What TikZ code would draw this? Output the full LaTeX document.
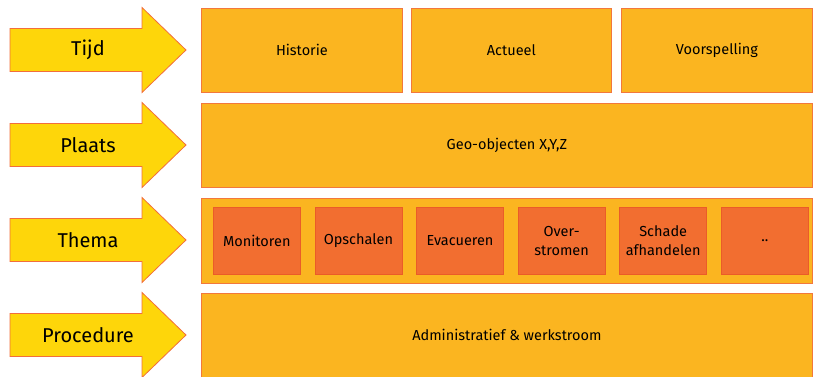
\documentclass[tikz,border=0pt]{standalone}
\usepackage{fontspec}
\setmainfont{Fira Sans}
\usepackage{tikz}
\usetikzlibrary{positioning,calc}
\usepackage{xcolor}
\definecolor{arrowyellow}{RGB}{254,214,10}
\definecolor{arrowline}{RGB}{242,110,60}
\definecolor{bandorange}{RGB}{251,181,32}
\definecolor{bandline}{RGB}{242,120,60}
\definecolor{cellorange}{RGB}{242,110,48}
\definecolor{cellline}{RGB}{234,92,40}

\begin{document}
\begin{tikzpicture}[x=1pt,y=-1pt,
    rowarrow/.style={draw=arrowline,fill=arrowyellow,line width=0.8pt},
    rowlabel/.style={font=\fontsize{20}{22}\selectfont},
    band/.style={rectangle,draw=bandline,fill=bandorange,line width=0.8pt,anchor=north west,inner sep=0pt,font=\fontsize{14.5}{17}\selectfont},
    cell/.style={rectangle,draw=cellline,fill=cellorange,line width=0.6pt,anchor=north west,inner sep=0pt,minimum width=87pt,minimum height=67pt,align=center,font=\fontsize{14.5}{19}\selectfont}]
    \clip (0,0) rectangle (814,376);

    % Arrows on the left
    \foreach \lbl/\c/\nm in {Tijd/50/tijd, Plaats/145/plaats, Thema/240/thema, Procedure/335/procedure}{
        \draw[rowarrow] (10,\c-21.5) -- (142,\c-21.5) -- (142,\c-42.5) -- (186,\c)
            -- (142,\c+42.5) -- (142,\c+21.5) -- (10,\c+21.5) -- cycle;
        \node[rowlabel] (\nm) at (88,\c) {\lbl};
    }

    % Tijd
    \node[band,minimum width=201pt,minimum height=84pt] (historie) at (201,8) {Historie};
    \node[band,minimum width=200pt,minimum height=84pt] (actueel) at (411,8) {Actueel};
    \node[band,minimum width=191pt,minimum height=84pt] (voorspelling) at (621,8) {Voorspelling};

    % Plaats
    \node[band,minimum width=611pt,minimum height=84pt] (geo) at (201,103) {Geo-objecten X,Y,Z};

    % Thema
    \node[band,minimum width=611pt,minimum height=85pt] (themaband) at (201,198) {};
    \foreach \txt/\i/\nm in {Monitoren/0/monitoren, Opschalen/1/opschalen, Evacueren/2/evacueren,
        {Over-\\stromen}/3/overstromen, {Schade\\afhandelen}/4/schade, ../5/meer}{
        \node[cell] (\nm) at (213+101.6*\i,207) {\txt};
    }

    % Procedure
    \node[band,minimum width=611pt,minimum height=84pt] (admin) at (201,293) {Administratief \& werkstroom};
\end{tikzpicture}
\end{document}
